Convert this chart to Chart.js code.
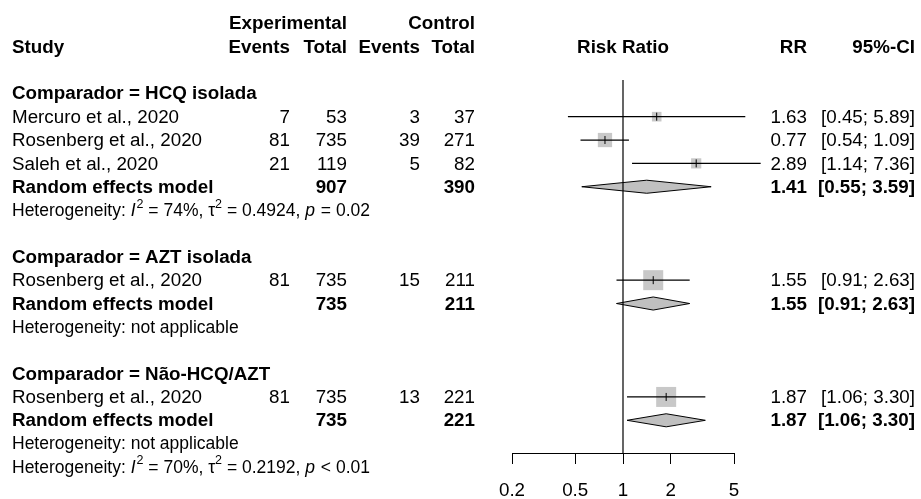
<!DOCTYPE html>
<html>
<head>
<meta charset="utf-8">
<script src="https://cdn.jsdelivr.net/npm/chart.js@4.4.1/dist/chart.umd.min.js"></script>
<style>
  html, body { margin: 0; padding: 0; background: #fff; }
</style>
</head>
<body>
<canvas id="forestChart" width="921" height="499"></canvas>
<script>
// --- data ---
const groupLabels = ['Comparador = HCQ isolada', 'Comparador = AZT isolada', 'Comparador = Não-HCQ/AZT'];
const studyNames = [
    ['Mercuro et al., 2020', 'Rosenberg et al., 2020', 'Saleh et al., 2020'],
    ['Rosenberg et al., 2020'],
    ['Rosenberg et al., 2020']
];
const expEvents = [[7, 81, 21], [81], [81]];
const expTotals = [[53, 735, 119], [735], [735]];
const ctrlEvents = [[3, 39, 5], [15], [13]];
const ctrlTotals = [[37, 271, 82], [211], [221]];
const studyRR = [[1.63, 0.77, 2.89], [1.55], [1.87]];
const studyLower = [[0.45, 0.54, 1.14], [0.91], [1.06]];
const studyUpper = [[5.89, 1.09, 7.36], [2.63], [3.30]];
const studyWeights = [[23, 51, 26], [100], [100]];   // % weight, sets square area
const pooledExpTotal = [907, 735, 735];
const pooledCtrlTotal = [390, 211, 221];
const pooledRR = [1.41, 1.55, 1.87];
const pooledLower = [0.55, 0.91, 1.06];
const pooledUpper = [3.59, 2.63, 3.30];
const groupHet = [{ i2: '74%', tau2: '0.4924', p: '= 0.02' }, null, null];
const overallHet = { i2: '70%', tau2: '0.2192', p: '< 0.01' };
const xTicks = [0.2, 0.5, 1, 2, 5];
const refValue = 1;

// --- layout ---
const FAMILY = '"Liberation Sans", Arial, sans-serif';
const FS = 18.8;
const FS_HET = 17.5;
const Y_MIN = 2.43, Y_MAX = 18.4;   // visible row range of the plot panel
const DIAMOND_HALF = 0.28;          // in rows
const COL = { study: 12, expEv: 290, expTot: 347, ctrlEv: 420, ctrlTot: 475, rr: 807, ci: 915 };

// assign rows
const rows = [];
let r = 3;
groupLabels.forEach((g, gi) => {
    rows.push({ kind: 'group', row: r++, gi });
    studyNames[gi].forEach((s, si) => rows.push({ kind: 'study', row: r++, gi, si }));
    rows.push({ kind: 'pooled', row: r++, gi });
    rows.push({ kind: 'het', row: r++, gi });
    if (gi < groupLabels.length - 1) r++;
});
rows.push({ kind: 'overall', row: r++ });

const datasets = [];
const squarePts = [], squareRadius = [], tickPts = [];
rows.filter(o => o.kind === 'study').forEach(o => {
    const est = studyRR[o.gi][o.si];
    squarePts.push({ x: est, y: o.row });
    squareRadius.push(20 * Math.sqrt(studyWeights[o.gi][o.si] / 100) / Math.SQRT2);
    tickPts.push({ x: est, y: o.row });
    datasets.push({
        type: 'line', order: 3, clip: false,
        data: [{ x: studyLower[o.gi][o.si], y: o.row }, { x: studyUpper[o.gi][o.si], y: o.row }],
        borderColor: '#000', borderWidth: 1.2, pointRadius: 0, fill: false
    });
});
rows.filter(o => o.kind === 'pooled').forEach(o => {
    const gi = o.gi;
    datasets.push({
        type: 'line', order: 3, clip: false,
        data: [
            { x: pooledLower[gi], y: o.row },
            { x: pooledRR[gi], y: o.row - DIAMOND_HALF },
            { x: pooledUpper[gi], y: o.row },
            { x: pooledRR[gi], y: o.row + DIAMOND_HALF },
            { x: pooledLower[gi], y: o.row }
        ],
        borderColor: '#000', borderWidth: 1, backgroundColor: '#c0c0c0',
        pointRadius: 0, fill: 'shape', tension: 0
    });
});
datasets.push({
    type: 'scatter', order: 4, clip: false, data: squarePts,
    pointStyle: 'rect', pointRadius: squareRadius, backgroundColor: '#c8c8c8', borderWidth: 0
});
datasets.push({
    type: 'scatter', order: 2, clip: false, data: tickPts,
    pointStyle: 'line', rotation: 90, pointRadius: 4, borderColor: '#000', borderWidth: 1
});
datasets.push({
    type: 'line', order: 1,
    data: [{ x: refValue, y: Y_MIN }, { x: refValue, y: Y_MAX }],
    borderColor: '#000', borderWidth: 1.2, pointRadius: 0, fill: false
});

// --- text columns ---
function txt(ctx, s, x, y, align, bold, size) {
    ctx.font = (bold ? 'bold ' : '') + (size || FS) + 'px ' + FAMILY;
    ctx.textAlign = align;
    ctx.fillText(s, x, y);
}
function drawHet(ctx, x, y, h) {
    const parts = h
        ? [['Heterogeneity: '], ['I', 'i'], ['2', 's'], [' = ' + h.i2 + ', '], ['\u03c4'], ['2', 's'], [' = ' + h.tau2 + ', '], ['p', 'i'], [' ' + h.p]]
        : [['Heterogeneity: not applicable']];
    ctx.textAlign = 'left';
    parts.forEach(([s, st]) => {
        const size = st === 's' ? 12.5 : FS_HET;
        ctx.font = (st === 'i' ? 'italic ' : '') + size + 'px ' + FAMILY;
        ctx.fillText(s, x, st === 's' ? y - 7 : y);
        x += ctx.measureText(s).width + (st === 'i' ? 1 : 0);
    });
}
const fmt = v => v.toFixed(2);

const textPlugin = {
    id: 'forestText',
    afterDraw(chart) {
        const ctx = chart.ctx;
        const ys = chart.scales.y;
        const area = chart.chartArea;
        const Y = row => ys.getPixelForValue(row) + 1;
        ctx.save();
        ctx.fillStyle = '#000';
        ctx.textBaseline = 'middle';
        // header
        txt(ctx, 'Experimental', COL.expTot, Y(0), 'right', true);
        txt(ctx, 'Control', COL.ctrlTot, Y(0), 'right', true);
        txt(ctx, 'Study', COL.study, Y(1), 'left', true);
        txt(ctx, 'Events', COL.expEv, Y(1), 'right', true);
        txt(ctx, 'Total', COL.expTot, Y(1), 'right', true);
        txt(ctx, 'Events', COL.ctrlEv, Y(1), 'right', true);
        txt(ctx, 'Total', COL.ctrlTot, Y(1), 'right', true);
        txt(ctx, 'Risk Ratio', (area.left + area.right) / 2, Y(1), 'center', true);
        txt(ctx, 'RR', COL.rr, Y(1), 'right', true);
        txt(ctx, '95%-CI', COL.ci, Y(1), 'right', true);

        rows.forEach(o => {
            const y = Y(o.row);
            if (o.kind === 'group') {
                txt(ctx, groupLabels[o.gi], COL.study, y, 'left', true);
            } else if (o.kind === 'study') {
                const g = o.gi, s = o.si;
                txt(ctx, studyNames[g][s], COL.study, y, 'left', false);
                txt(ctx, String(expEvents[g][s]), COL.expEv, y, 'right', false);
                txt(ctx, String(expTotals[g][s]), COL.expTot, y, 'right', false);
                txt(ctx, String(ctrlEvents[g][s]), COL.ctrlEv, y, 'right', false);
                txt(ctx, String(ctrlTotals[g][s]), COL.ctrlTot, y, 'right', false);
                txt(ctx, fmt(studyRR[g][s]), COL.rr, y, 'right', false);
                txt(ctx, '[' + fmt(studyLower[g][s]) + '; ' + fmt(studyUpper[g][s]) + ']', COL.ci, y, 'right', false);
            } else if (o.kind === 'pooled') {
                const g = o.gi;
                txt(ctx, 'Random effects model', COL.study, y, 'left', true);
                txt(ctx, String(pooledExpTotal[g]), COL.expTot, y, 'right', true);
                txt(ctx, String(pooledCtrlTotal[g]), COL.ctrlTot, y, 'right', true);
                txt(ctx, fmt(pooledRR[g]), COL.rr, y, 'right', true);
                txt(ctx, '[' + fmt(pooledLower[g]) + '; ' + fmt(pooledUpper[g]) + ']', COL.ci, y, 'right', true);
            } else if (o.kind === 'het') {
                drawHet(ctx, COL.study, y, groupHet[o.gi]);
            } else {
                drawHet(ctx, COL.study, y, overallHet);
            }
        });
        ctx.restore();
    }
};

const ctxForest = document.getElementById('forestChart').getContext('2d');
new Chart(ctxForest, {
    type: 'scatter',
    data: { datasets },
    options: {
        responsive: false,
        animation: false,
        events: [],
        layout: { padding: { left: 512, right: 187, top: 80, bottom: 0 } },
        plugins: { legend: { display: false }, tooltip: { enabled: false } },
        scales: {
            x: {
                type: 'logarithmic',
                min: xTicks[0],
                max: xTicks[xTicks.length - 1],
                afterBuildTicks: scale => { scale.ticks = xTicks.map(v => ({ value: v })); },
                afterFit: scale => { scale.height = 46; },
                ticks: {
                    callback: v => String(v),
                    autoSkip: false, maxRotation: 0,
                    color: '#000', padding: 16,
                    font: { family: FAMILY, size: FS }
                },
                grid: { drawOnChartArea: false, drawTicks: true, tickLength: 11, color: '#000', lineWidth: 1 },
                border: { display: true, color: '#000', width: 1 }
            },
            y: {
                type: 'linear', reverse: true, display: false,
                min: Y_MIN, max: Y_MAX
            }
        }
    },
    plugins: [textPlugin]
});
</script>
</body>
</html>
